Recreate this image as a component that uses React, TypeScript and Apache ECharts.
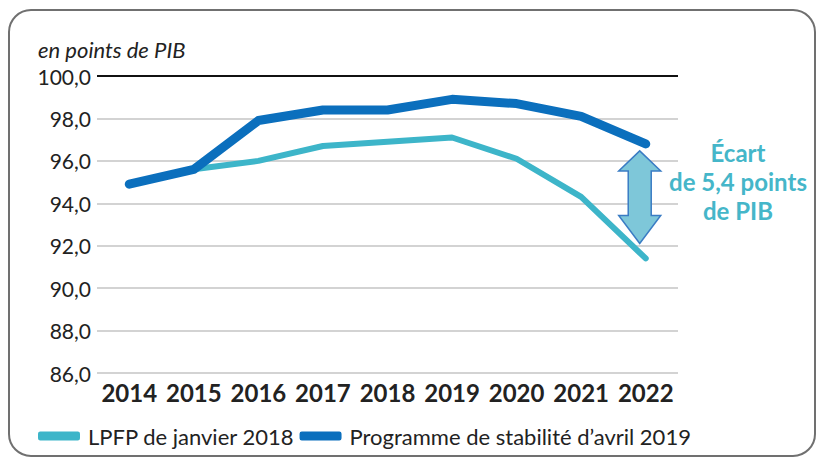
import React, { useEffect, useRef } from "react";
import * as echarts from "echarts";

const years = ["2014", "2015", "2016", "2017", "2018", "2019", "2020", "2021", "2022"];
const lpfp2018 = [94.9, 95.6, 96.0, 96.7, 96.9, 97.1, 96.1, 94.3, 91.4];
const stab2019 = [94.9, 95.6, 97.9, 98.4, 98.4, 98.9, 98.7, 98.1, 96.8];
const seriesNames = ["LPFP de janvier 2018", "Programme de stabilité d’avril 2019"];
const yMin = 86;
const yMax = 100;
const yStep = 2;
const gapLines = ["Écart", "de 5,4 points", "de PIB"];

const FONT = "Lato, 'Open Sans', sans-serif";
const DARK = "#0b6fbd";
const LIGHT = "#3db5c9";

export default function App() {
  const ref = useRef<HTMLDivElement>(null);
  useEffect(() => {
    if (!ref.current) return;
    const chart = echarts.init(ref.current, null, { renderer: "svg" });
    const option: any = {
      animation: false,
      backgroundColor: "#ffffff",
      textStyle: { fontFamily: FONT },
      title: {
        text: "en points de PIB",
        left: 33,
        top: 33,
        textStyle: { fontFamily: FONT, fontStyle: "italic", fontWeight: "normal", fontSize: 22, color: "#222" },
      },
      grid: { left: 97, right: 146, top: 76, bottom: 88 },
      legend: {
        data: seriesNames,
        left: 33,
        top: 420,
        icon: "roundRect",
        itemWidth: 42,
        itemHeight: 9,
        itemGap: 5,
        textStyle: { fontFamily: FONT, fontSize: 22, color: "#222", padding: [0, 0, 0, 3] },
      },
      xAxis: {
        type: "category",
        data: years,
        boundaryGap: true,
        axisLine: { show: false },
        axisTick: { show: false },
        axisLabel: { interval: 0, fontFamily: FONT, fontWeight: "bold", fontSize: 24, color: "#222", margin: 7 },
      },
      yAxis: {
        type: "value",
        min: yMin,
        max: yMax,
        interval: yStep,
        axisLine: { show: false },
        axisTick: { show: false },
        axisLabel: {
          fontFamily: FONT,
          fontSize: 21,
          color: "#222",
          margin: 6,
          formatter: (v: number) => v.toFixed(1).replace(".", ","),
        },
        splitLine: { lineStyle: { color: "#c4c4c4", width: 1.5 } },
      },
      series: [
        {
          name: seriesNames[0],
          type: "line",
          data: lpfp2018,
          symbol: "none",
          color: LIGHT,
          lineStyle: { width: 6, color: LIGHT, cap: "round", join: "round" },
          z: 2,
          markLine: {
            silent: true,
            symbol: "none",
            label: { show: false },
            lineStyle: { color: "#111", width: 2, type: "solid" },
            data: [{ yAxis: yMax }],
          },
        },
        {
          name: seriesNames[1],
          type: "line",
          data: stab2019,
          symbol: "none",
          color: DARK,
          lineStyle: { width: 9, color: DARK, cap: "round", join: "round" },
          z: 3,
        },
      ],
    };
    chart.setOption(option);

    const last = years.length - 1;
    const pTop = chart.convertToPixel({ gridIndex: 0 }, [years[last], stab2019[last]]) as number[];
    const pBot = chart.convertToPixel({ gridIndex: 0 }, [years[last], lpfp2018[last]]) as number[];
    const cx = pTop[0] - 6;
    const top = pTop[1] + 7;
    const bot = pBot[1] - 15;
    const hw = 21;
    const sw = 11.5;
    const hl = 20;
    const arrowPts = [
      [cx, top],
      [cx + hw, top + hl],
      [cx + sw, top + hl],
      [cx + sw, bot - hl - 8],
      [cx + hw, bot - hl - 8],
      [cx, bot],
      [cx - hw, bot - hl - 8],
      [cx - sw, bot - hl - 8],
      [cx - sw, top + hl],
      [cx - hw, top + hl],
    ];

    chart.setOption({
      graphic: [
        {
          type: "rect",
          silent: true,
          shape: { x: 9, y: 10, width: 806, height: 446, r: 22 },
          style: { fill: "none", stroke: "#707070", lineWidth: 2 },
          z: 0,
        },
        {
          type: "polygon",
          silent: true,
          shape: { points: arrowPts },
          style: { fill: "#7ec7d9", stroke: "#3a7cc4", lineWidth: 1.5 },
          z: 10,
        },
        {
          type: "text",
          silent: true,
          x: 738,
          y: 138,
          style: {
            text: gapLines.join("\n"),
            fill: "#45b6c9",
            font: `bold 24px ${FONT}`,
            align: "center",
            verticalAlign: "top",
            lineHeight: 29,
          },
          z: 10,
        },
      ],
    });

    return () => chart.dispose();
  }, []);
  return <div ref={ref} style={{ width: 824, height: 461, position: "absolute", left: 0, top: 0 }} />;
}
